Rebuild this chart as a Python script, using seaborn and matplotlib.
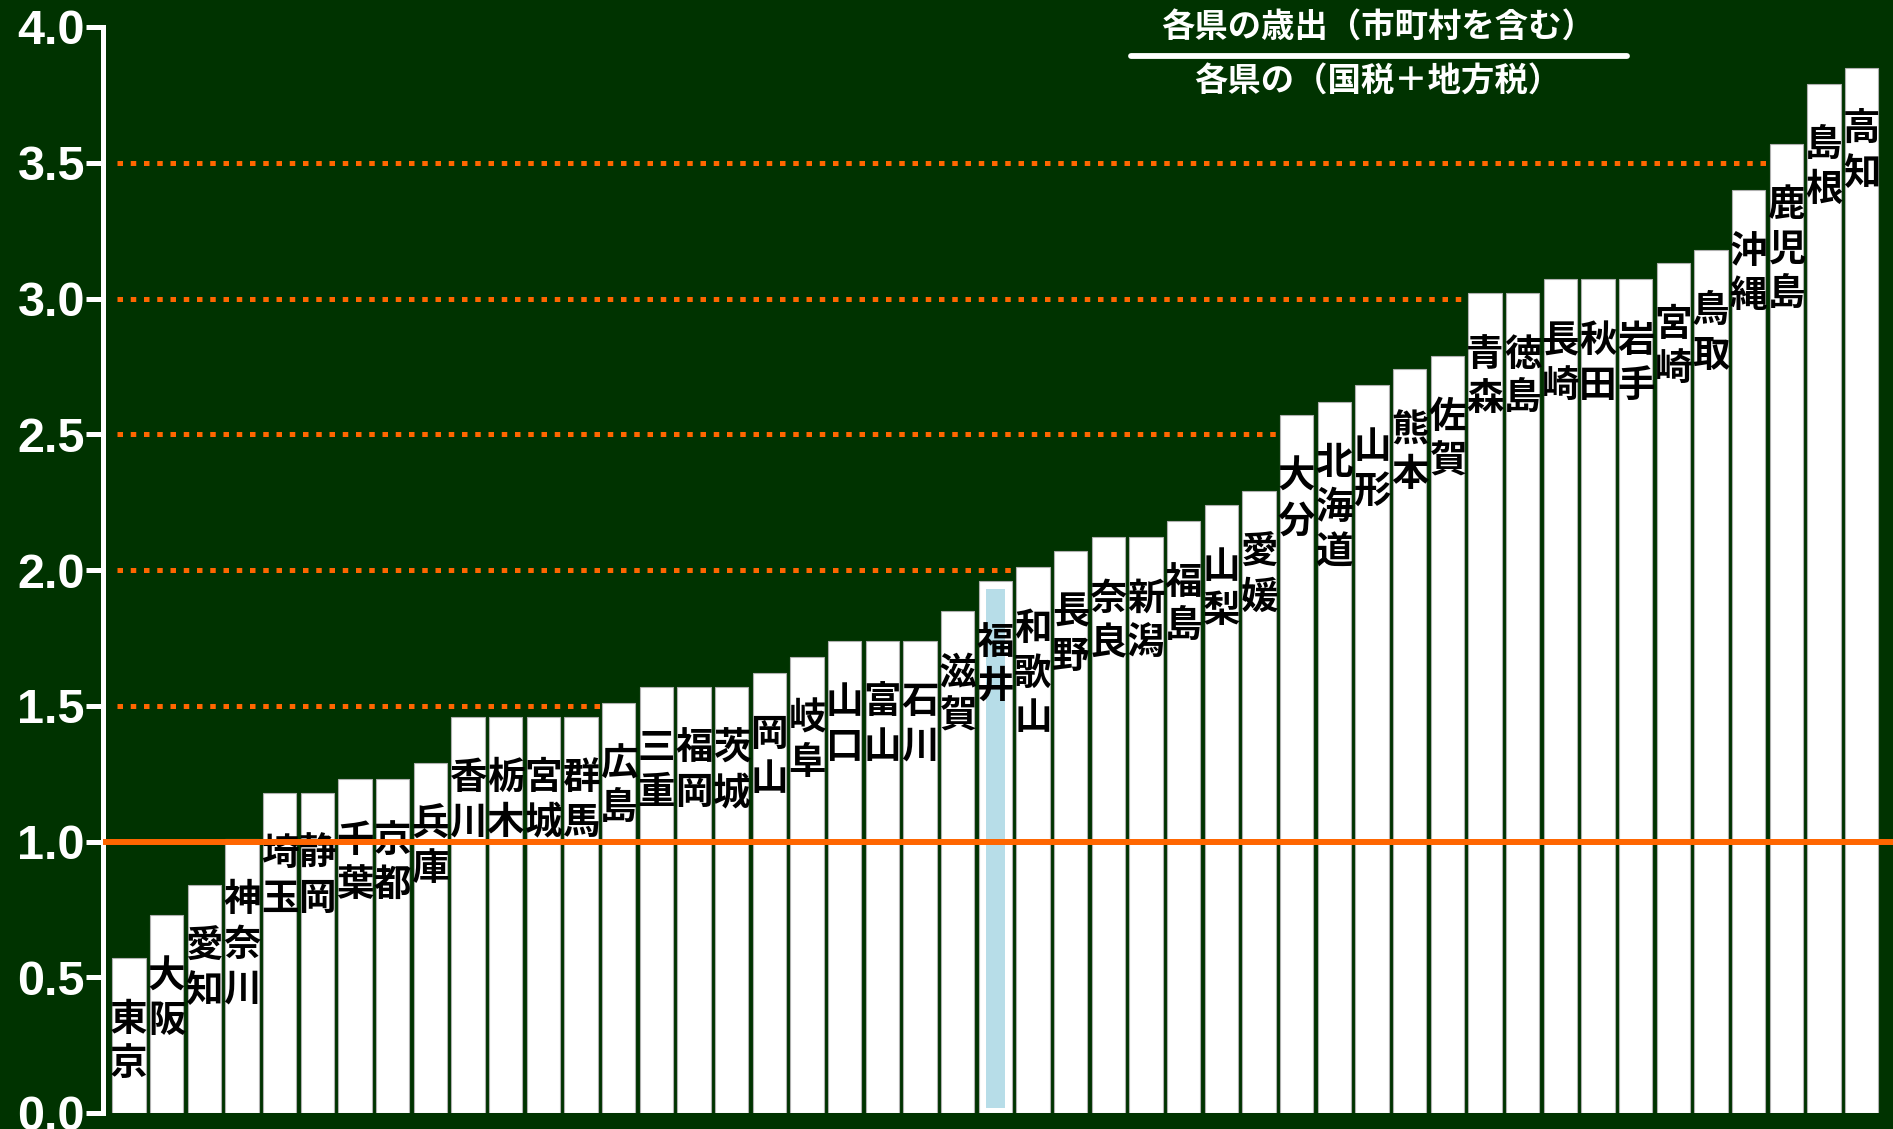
import matplotlib
matplotlib.use('Agg')
import matplotlib.pyplot as plt
import seaborn as sns
import pandas as pd
from matplotlib.lines import Line2D

prefectures = ['東京', '大阪', '愛知', '神奈川', '埼玉', '静岡', '千葉', '京都', '兵庫',
               '香川', '栃木', '宮城', '群馬', '広島', '三重', '福岡', '茨城', '岡山',
               '岐阜', '山口', '富山', '石川', '滋賀', '福井', '和歌山', '長野', '奈良',
               '新潟', '福島', '山梨', '愛媛', '大分', '北海道', '山形', '熊本', '佐賀',
               '青森', '徳島', '長崎', '秋田', '岩手', '宮崎', '鳥取', '沖縄', '鹿児島',
               '島根', '高知']
ratios = [0.57, 0.73, 0.84, 1.01, 1.18, 1.18, 1.23, 1.23, 1.29,
          1.46, 1.46, 1.46, 1.46, 1.51, 1.57, 1.57, 1.57, 1.62,
          1.68, 1.74, 1.74, 1.74, 1.85, 1.96, 2.01, 2.07, 2.12,
          2.12, 2.18, 2.24, 2.29, 2.57, 2.62, 2.68, 2.74, 2.79,
          3.02, 3.02, 3.07, 3.07, 3.07, 3.13, 3.18, 3.40, 3.57,
          3.79, 3.85]
highlight_pref = '福井'
highlight_value = 1.93
dotted_levels = [1.5, 2.0, 2.5, 3.0, 3.5]
baseline_level = 1.0
ytick_values = [0.0, 0.5, 1.0, 1.5, 2.0, 2.5, 3.0, 3.5, 4.0]
ytick_labels = ['0.0', '0.5', '1.0', '1.5', '2.0', '2.5', '3.0', '3.5', '4.0']
title_numerator = '各県の歳出（市町村を含む）'
title_denominator = '各県の（国税＋地方税）'

BG = '#003300'
ORANGE = '#ff6600'
HIGHLIGHT = '#b7dde8'
JP = ['Noto Sans CJK JP', 'DejaVu Sans']

sns.set_theme(style='white')
plt.rcParams['font.family'] = ['Liberation Sans', 'Noto Sans CJK JP', 'DejaVu Sans']

W, H = 1893, 1129
fig = plt.figure(figsize=(W / 100, H / 100), dpi=100, facecolor=BG)
ax = fig.add_axes([103 / W, (H - 1113) / H, 1 - 103 / W, (1113 - 27) / H])
ax.set_facecolor(BG)

df = pd.DataFrame({'pref': prefectures, 'ratio': ratios})
BAR_W = 0.88
sns.barplot(data=df, x='pref', y='ratio', color='white', saturation=1,
            width=BAR_W, edgecolor='#b0b0b0', linewidth=0.8, ax=ax, zorder=2)

# highlighted inner bar
hi = prefectures.index(highlight_pref)
ax.bar(hi, highlight_value - 0.02, bottom=0.02, width=0.52, color=HIGHLIGHT,
       linewidth=0, zorder=3)

# dotted reference lines: stop at first bar that exceeds the level
x_left = -0.33
for lvl in dotted_levels:
    first = next(i for i, v in enumerate(ratios) if v > lvl)
    x_end = first - BAR_W / 2 - 0.02
    ax.plot([x_left, x_end], [lvl, lvl], color=ORANGE, lw=3.6,
            linestyle=(0, (1.1, 1.55)), dash_capstyle='butt', zorder=1)

# solid line at 1.0
ax.axhline(baseline_level, color=ORANGE, lw=4.3, zorder=6)

# vertical labels
for i, (name, val) in enumerate(zip(prefectures, ratios)):
    ax.annotate('\n'.join(name), xy=(i, val), xytext=(0, -30),
                textcoords='offset points', ha='center', va='top',
                fontsize=27, fontweight='bold', family=JP, color='black',
                linespacing=1.18, zorder=5)

ax.set_xlim(-0.69, 46.83)
ax.set_ylim(0, 4.0)
ax.set_xticks([])
ax.set_xlabel('')
ax.set_ylabel('')
ax.set_yticks(ytick_values)
ax.set_yticklabels(ytick_labels, fontweight='bold', family=['Liberation Sans'])
ax.tick_params(axis='y', colors='white', length=12, width=3.6, pad=1,
               labelsize=35, left=True)
for s in ['top', 'right', 'bottom']:
    ax.spines[s].set_visible(False)
ax.spines['left'].set_color('white')
ax.spines['left'].set_linewidth(3.6)

# fraction title
fig.text(1378 / W, 1 - 27 / H, title_numerator, ha='center', va='center',
         color='white', fontsize=24, fontweight='bold', family=JP)
fig.add_artist(Line2D([1131 / W, 1627 / W], [1 - 56 / H, 1 - 56 / H],
                      transform=fig.transFigure, color='white', lw=4.2))
fig.text(1378 / W, 1 - 81 / H, title_denominator, ha='center', va='center',
         color='white', fontsize=24, fontweight='bold', family=JP)

fig.savefig('out.png', dpi=100, facecolor=BG)
